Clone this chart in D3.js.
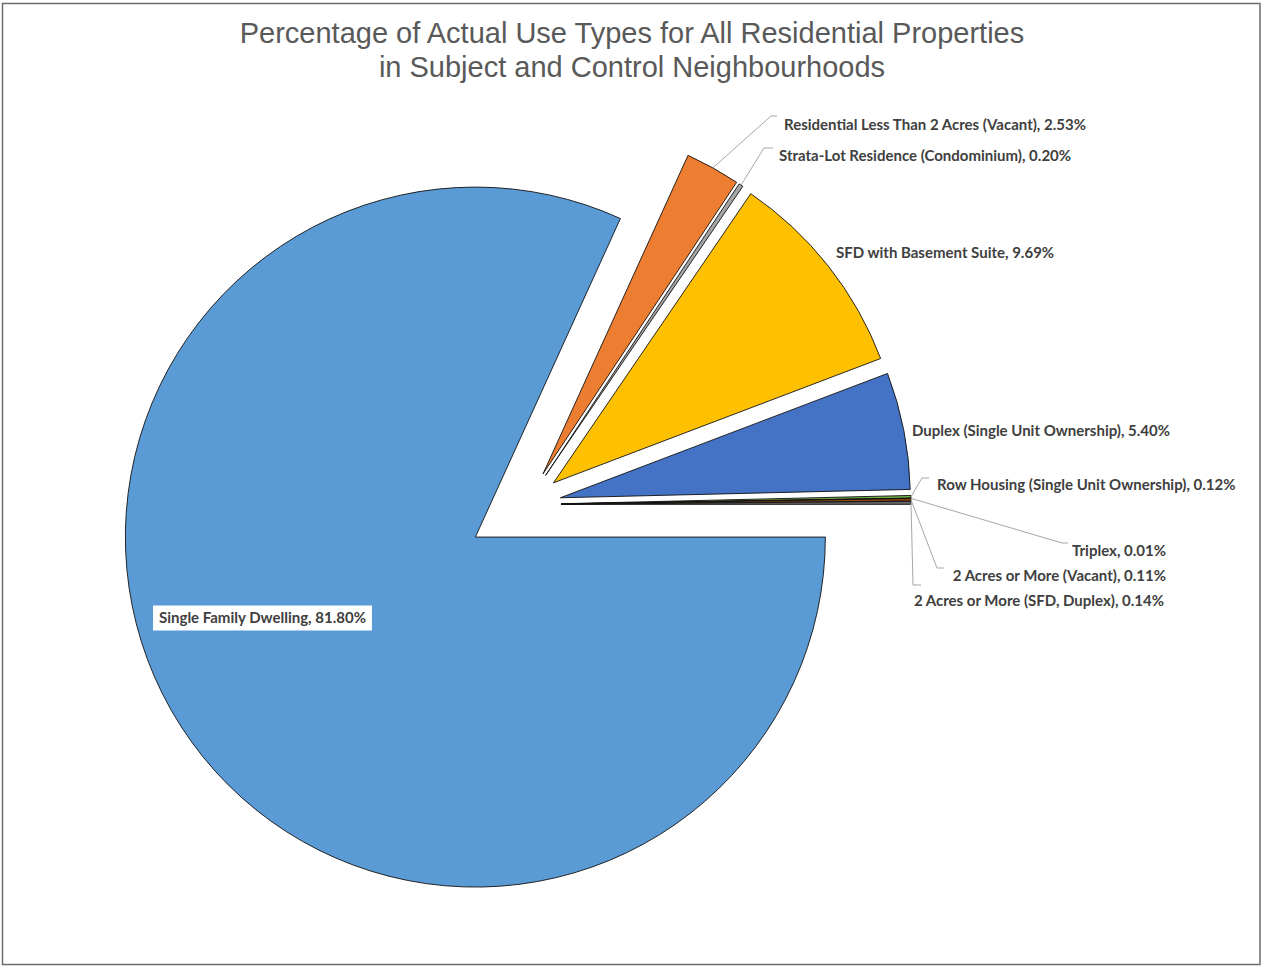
<!DOCTYPE html>
<html>
<head>
<meta charset="utf-8">
<script src="https://cdn.jsdelivr.net/npm/d3@7"></script>
<style>
  html, body { margin: 0; padding: 0; background: #fff; }
  svg { display: block; }
</style>
</head>
<body>
<script>
// Actual use types, in the order the slices are laid out clockwise
const categories = [
  "Single Family Dwelling",
  "Residential Less Than 2 Acres (Vacant)",
  "Strata-Lot Residence (Condominium)",
  "SFD with Basement Suite",
  "Duplex (Single Unit Ownership)",
  "Row Housing (Single Unit Ownership)",
  "Triplex",
  "2 Acres or More (Vacant)",
  "2 Acres or More (SFD, Duplex)"
];
// Share of all residential properties, in percent
const percentages = [81.80, 2.53, 0.20, 9.69, 5.40, 0.12, 0.01, 0.11, 0.14];

const sliceColors = ["#5B9BD5", "#ED7D31", "#A5A5A5", "#FFC000", "#4472C4",
                     "#70AD47", "#255E91", "#9E480E", "#636363"];
// How far each slice is pulled out from the centre, as a fraction of the radius
const explodeFraction = [0.172, 0.1, 0.1, 0.1, 0.1, 0.1, 0.1, 0.1, 0.1];

// Label placement: text anchor point and the leader-line elbow (if any)
const labelLayout = [
  { x: 159,  y: 618, anchor: "start", boxed: true },
  { x: 784,  y: 125, anchor: "start", elbow: [[771, 116], [777, 116]] },
  { x: 779,  y: 156, anchor: "start", elbow: [[764, 148], [773, 148]] },
  { x: 836,  y: 253, anchor: "start" },
  { x: 912,  y: 431, anchor: "start" },
  { x: 937,  y: 485, anchor: "start", elbow: [[922, 478], [929, 478]] },
  { x: 1166, y: 551, anchor: "end",   elbow: [[1062, 543], [1068, 543]] },
  { x: 1166, y: 576, anchor: "end",   elbow: [[937, 568], [944, 568]] },
  { x: 1164, y: 601, anchor: "end",   elbow: [[913, 585], [921, 585]] }
];

const W = 1262, H = 966;
const cx = 526, cy = 504.5, R = 350;

const svg = d3.select("body").append("svg")
  .attr("width", W).attr("height", H);

// Chart frame
svg.append("rect")
  .attr("x", 2.5).attr("y", 3.5).attr("width", 1257.5).attr("height", 961)
  .attr("fill", "#fff").attr("stroke", "#6b6b6b").attr("stroke-width", 1.5);

// Title
const title = svg.append("text")
  .attr("text-anchor", "middle")
  .attr("font-family", "'Liberation Sans', Arial, sans-serif")
  .attr("font-size", 29)
  .attr("fill", "#595959");
title.append("tspan").attr("x", 632).attr("y", 43)
  .text("Percentage of Actual Use Types for All Residential Properties");
title.append("tspan").attr("x", 632).attr("y", 77)
  .text("in Subject and Control Neighbourhoods");

const data = categories.map((c, i) => ({ name: c, value: percentages[i], color: sliceColors[i], explode: explodeFraction[i] }));

// First slice begins at 3 o'clock and runs clockwise
const pie = d3.pie().value(d => d.value).sort(null)
  .startAngle(Math.PI / 2).endAngle(Math.PI / 2 + 2 * Math.PI);
const arcs = pie(data);

const arc = d3.arc().innerRadius(0).outerRadius(R);

function offsetOf(a) {
  const mid = (a.startAngle + a.endAngle) / 2;
  const e = a.data.explode * R;
  return [e * Math.sin(mid), -e * Math.cos(mid)];
}

const g = svg.append("g").attr("transform", `translate(${cx},${cy})`);

g.selectAll("path.slice")
  .data(arcs)
  .join("path")
  .attr("class", "slice")
  .attr("transform", d => { const o = offsetOf(d); return `translate(${o[0]},${o[1]})`; })
  .attr("d", arc)
  .attr("fill", d => d.data.color)
  .attr("stroke", "#111")
  .attr("stroke-width", 0.9)
  .attr("stroke-linejoin", "miter");

// Leader lines from the outer edge of each slice to its label
const leaders = svg.append("g")
  .attr("fill", "none").attr("stroke", "#a6a6a6").attr("stroke-width", 1);

arcs.forEach((a, i) => {
  const L = labelLayout[i];
  if (!L.elbow) return;
  const mid = (a.startAngle + a.endAngle) / 2;
  const o = offsetOf(a);
  const start = [cx + o[0] + R * Math.sin(mid), cy + o[1] - R * Math.cos(mid)];
  leaders.append("path").attr("d", d3.line()([start, ...L.elbow]));
});

// Data labels
const labelFont = "Lato, 'Open Sans', sans-serif";
arcs.forEach((a, i) => {
  const L = labelLayout[i];
  const t = svg.append("text")
    .attr("x", L.x).attr("y", L.y)
    .attr("dy", "0.35em")
    .attr("text-anchor", L.anchor)
    .attr("font-family", labelFont)
    .attr("font-weight", "bold")
    .attr("font-size", 15)
    .attr("fill", "#404040")
    .text(`${a.data.name}, ${a.data.value.toFixed(2)}%`);
  if (L.boxed) {
    const b = t.node().getBBox();
    svg.insert("rect", () => t.node())
      .attr("x", b.x - 6).attr("y", L.y - 12.5)
      .attr("width", b.width + 12).attr("height", 25)
      .attr("fill", "#fff");
  }
});
</script>
</body>
</html>
